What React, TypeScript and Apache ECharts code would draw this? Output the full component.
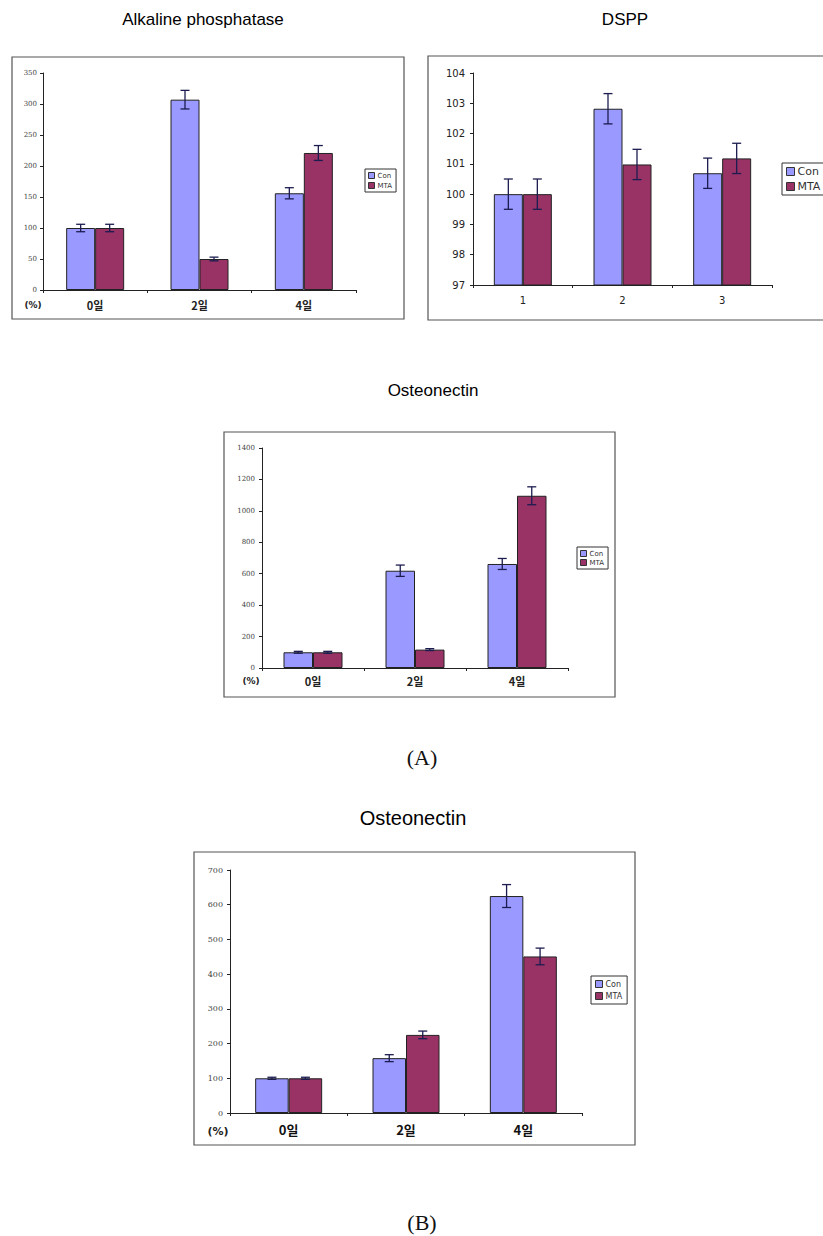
import React, { useEffect, useRef } from "react";
import * as echarts from "echarts";

// ---------- Data ----------
const dayCategories = ["0일", "2일", "4일"];
const dsppCategories = ["1", "2", "3"];
const seriesNames = ["Con", "MTA"];

const alpCon = [100, 307, 156];
const alpConErr = [6, 15, 9];
const alpMta = [100, 50, 221];
const alpMtaErr = [6, 3, 12];

const dsppCon = [100, 102.82, 100.69];
const dsppConErr = [0.5, 0.5, 0.5];
const dsppMta = [100, 100.98, 101.18];
const dsppMtaErr = [0.5, 0.5, 0.5];

const ostACon = [100, 619, 662];
const ostAConErr = [6, 36, 35];
const ostAMta = [100, 117, 1096];
const ostAMtaErr = [6, 6, 57];

const ostBCon = [100, 158, 625];
const ostBConErr = [3, 10, 33];
const ostBMta = [100, 225, 451];
const ostBMtaErr = [3, 11, 24];

const CON_COLOR = "#9999FF";
const MTA_COLOR = "#993366";
const ERR_COLOR = "#1c1c50";

type Panel = {
  cats: string[];
  con: number[];
  conErr: number[];
  mta: number[];
  mtaErr: number[];
  min: number;
  max: number;
  interval: number;
  grid: { left: number; top: number; width: number; height: number };
  barWidth: number;
  yLabel: any;
  xLabel: any;
};

const plainNumber = (v: number) => String(v);

const serifSmall = (size: number) => ({
  fontFamily: "DejaVu Serif",
  fontSize: size,
  color: "#444",
  formatter: plainNumber,
});

const panels: Panel[] = [
  {
    cats: dayCategories,
    con: alpCon,
    conErr: alpConErr,
    mta: alpMta,
    mtaErr: alpMtaErr,
    min: 0,
    max: 350,
    interval: 50,
    grid: { left: 43, top: 73, width: 313, height: 217 },
    barWidth: 29,
    yLabel: { ...serifSmall(7), margin: 6 },
    xLabel: {
      fontFamily: "Noto Sans CJK KR",
      fontSize: 11,
      fontWeight: "bold",
      color: "#222",
      margin: 9,
    },
  },
  {
    cats: dsppCategories,
    con: dsppCon,
    conErr: dsppConErr,
    mta: dsppMta,
    mtaErr: dsppMtaErr,
    min: 97,
    max: 104,
    interval: 1,
    grid: { left: 473, top: 73, width: 299, height: 212 },
    barWidth: 29,
    yLabel: {
      fontFamily: "DejaVu Sans",
      fontSize: 10,
      color: "#222",
      margin: 8,
      formatter: plainNumber,
    },
    xLabel: {
      fontFamily: "DejaVu Sans",
      fontSize: 10,
      color: "#222",
      margin: 10,
    },
  },
  {
    cats: dayCategories,
    con: ostACon,
    conErr: ostAConErr,
    mta: ostAMta,
    mtaErr: ostAMtaErr,
    min: 0,
    max: 1400,
    interval: 200,
    grid: { left: 262, top: 448, width: 306, height: 220 },
    barWidth: 29.5,
    yLabel: { ...serifSmall(7), margin: 7 },
    xLabel: {
      fontFamily: "Noto Sans CJK KR",
      fontSize: 11,
      fontWeight: "bold",
      color: "#222",
      margin: 7,
    },
  },
  {
    cats: dayCategories,
    con: ostBCon,
    conErr: ostBConErr,
    mta: ostBMta,
    mtaErr: ostBMtaErr,
    min: 0,
    max: 700,
    interval: 100,
    grid: { left: 230, top: 870, width: 352, height: 243 },
    barWidth: 33.5,
    yLabel: { ...serifSmall(8), margin: 7 },
    xLabel: {
      fontFamily: "Noto Sans CJK KR",
      fontSize: 13,
      fontWeight: "bold",
      color: "#111",
      margin: 10,
    },
  },
];

const legendPos = [
  { left: 365, top: 169, fontSize: 7, itemSize: 6, gap: 3, padding: [3, 4, 3, 3] },
  { left: 782, top: 163, fontSize: 11, itemSize: 8, gap: 4, padding: [3, 4, 3, 4] },
  { left: 577, top: 547, fontSize: 7, itemSize: 6, gap: 2, padding: [3, 4, 3, 3] },
  { left: 591, top: 976, fontSize: 8, itemSize: 7, gap: 4, padding: [4, 5, 4, 4] },
];

function errorSeries(
  idx: number,
  name: string,
  values: number[],
  errs: number[],
  offset: number
) {
  return {
    type: "custom",
    name: name + " err",
    xAxisIndex: idx,
    yAxisIndex: idx,
    z: 10,
    silent: true,
    legendHoverLink: false,
    renderItem: (params: any, api: any) => {
      const x = api.value(0);
      const lo = api.coord([x, api.value(1)]);
      const hi = api.coord([x, api.value(2)]);
      const cx = lo[0] + offset;
      const cap = 4.5;
      const style = { stroke: ERR_COLOR, lineWidth: 1.3 };
      return {
        type: "group",
        children: [
          { type: "line", shape: { x1: cx, y1: lo[1], x2: cx, y2: hi[1] }, style },
          { type: "line", shape: { x1: cx - cap, y1: hi[1], x2: cx + cap, y2: hi[1] }, style },
          { type: "line", shape: { x1: cx - cap, y1: lo[1], x2: cx + cap, y2: lo[1] }, style },
        ],
      };
    },
    data: values.map((v, i) => [i, v - errs[i], v + errs[i]]),
  };
}

export default function App() {
  const ref = useRef<HTMLDivElement>(null);

  useEffect(() => {
    if (!ref.current) return;
    const chart = echarts.init(ref.current, undefined, { renderer: "svg" });

    const grids = panels.map((p) => ({ ...p.grid, containLabel: false }));
    const xAxes = panels.map((p, i) => ({
      type: "category",
      gridIndex: i,
      data: p.cats,
      boundaryGap: true,
      axisLine: { show: true, lineStyle: { color: "#222", width: 1 } },
      axisTick: { show: true, length: 3, lineStyle: { color: "#222" } },
      axisLabel: p.xLabel,
      splitLine: { show: false },
    }));
    const yAxes = panels.map((p, i) => ({
      type: "value",
      gridIndex: i,
      min: p.min,
      max: p.max,
      interval: p.interval,
      axisLine: { show: true, lineStyle: { color: "#222", width: 1 } },
      axisTick: { show: true, length: 3, lineStyle: { color: "#222" } },
      axisLabel: p.yLabel,
      splitLine: { show: false },
    }));

    const series: any[] = [];
    panels.forEach((p, i) => {
      series.push({
        type: "bar",
        name: seriesNames[0],
        xAxisIndex: i,
        yAxisIndex: i,
        data: p.con,
        barWidth: p.barWidth,
        barGap: "0%",
        itemStyle: { color: CON_COLOR, borderColor: "#222", borderWidth: 1 },
      });
      series.push({
        type: "bar",
        name: seriesNames[1],
        xAxisIndex: i,
        yAxisIndex: i,
        data: p.mta,
        barWidth: p.barWidth,
        barGap: "0%",
        itemStyle: { color: MTA_COLOR, borderColor: "#222", borderWidth: 1 },
      });
      series.push(errorSeries(i, seriesNames[0], p.con, p.conErr, -p.barWidth / 2));
      series.push(errorSeries(i, seriesNames[1], p.mta, p.mtaErr, p.barWidth / 2));
    });

    const legends = legendPos.map((l) => ({
      data: seriesNames.map((n) => ({ name: n })),
      orient: "vertical",
      left: l.left,
      top: l.top,
      icon: "rect",
      itemWidth: l.itemSize,
      itemHeight: l.itemSize,
      itemGap: l.gap,
      padding: l.padding,
      borderColor: "#333",
      borderWidth: 1,
      backgroundColor: "#fff",
      selectedMode: false,
      itemStyle: { borderColor: "#333", borderWidth: 1 },
      textStyle: {
        fontSize: l.fontSize,
        fontFamily: "DejaVu Sans",
        color: "#333",
        padding: [0, 0, 0, -2],
      },
    }));

    const titleStyle = (size: number) => ({
      fill: "#000",
      fontFamily: "Liberation Sans",
      fontSize: size,
      textAlign: "center",
      textVerticalAlign: "middle",
    });

    const frame = (x: number, y: number, w: number, h: number) => ({
      type: "rect",
      shape: { x, y, width: w, height: h },
      style: { fill: "#fff", stroke: "#555", lineWidth: 1.2 },
      z: -10,
    });

    const pctText = (x: number, y: number, size: number) => ({
      type: "text",
      x,
      y,
      style: {
        text: "(%)",
        fill: "#222",
        fontFamily: "DejaVu Sans",
        fontWeight: "bold",
        fontSize: size,
        textAlign: "center",
        textVerticalAlign: "middle",
      },
      z: 5,
    });

    const graphic = [
      frame(12, 57, 392, 262),
      frame(428, 56, 420, 264),
      frame(224, 432, 391, 265),
      frame(194, 852, 441, 293),
      { type: "text", x: 203, y: 19, style: { text: "Alkaline phosphatase", ...titleStyle(17) } },
      { type: "text", x: 625, y: 19, style: { text: "DSPP", ...titleStyle(17) } },
      { type: "text", x: 433, y: 390, style: { text: "Osteonectin", ...titleStyle(17) } },
      { type: "text", x: 413, y: 818, style: { text: "Osteonectin", ...titleStyle(20) } },
      pctText(33, 305, 9),
      pctText(251, 681, 9),
      pctText(218, 1131, 11),
      {
        type: "text",
        x: 422,
        y: 757,
        style: {
          text: "(A)",
          fill: "#111",
          fontFamily: "Liberation Serif",
          fontSize: 22,
          textAlign: "center",
          textVerticalAlign: "middle",
        },
      },
      {
        type: "text",
        x: 422,
        y: 1222,
        style: {
          text: "(B)",
          fill: "#111",
          fontFamily: "Liberation Serif",
          fontSize: 22,
          textAlign: "center",
          textVerticalAlign: "middle",
        },
      },
    ];

    chart.setOption({
      animation: false,
      backgroundColor: "#fff",
      grid: grids,
      xAxis: xAxes,
      yAxis: yAxes,
      legend: legends,
      series,
      graphic,
    });

    return () => chart.dispose();
  }, []);

  return (
    <div
      ref={ref}
      style={{ position: "absolute", left: 0, top: 0, width: 823, height: 1236 }}
    />
  );
}
